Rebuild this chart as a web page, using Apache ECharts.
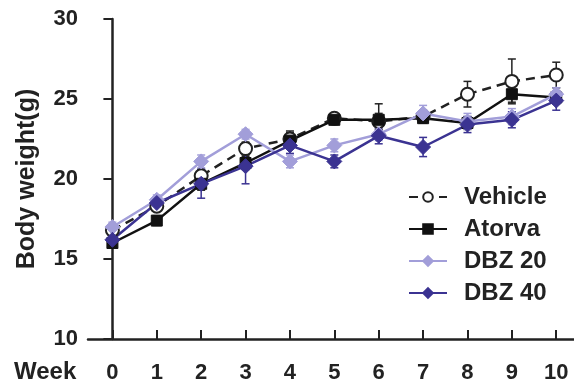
<!DOCTYPE html>
<html>
<head>
<meta charset="utf-8">
<script src="https://cdn.jsdelivr.net/npm/echarts@6/dist/echarts.min.js"></script>
<style>
  html, body {margin: 0; padding: 0; background: #fff;}
  #chart {width: 574px; height: 392px;}
</style>
</head>
<body>
<div id="chart"></div>
<script>
const weeks = [0, 1, 2, 3, 4, 5, 6, 7, 8, 9, 10];
const vehicle = [16.8, 18.3, 20.2, 21.9, 22.5, 23.8, 23.6, 23.9, 25.3, 26.1, 26.5];
const vehicleErr = [0.3, 0.3, 0.4, 0.4, 0.5, 0.3, 0.5, 0.4, 0.8, 1.4, 0.8];
const atorva = [16.0, 17.4, 19.7, 21.0, 22.4, 23.7, 23.7, 23.8, 23.5, 25.3, 25.1];
const atorvaErr = [0.3, 0.3, 0.4, 0.4, 0.5, 0.3, 1.0, 0.3, 0.4, 0.5, 0.4];
const dbz20 = [17.0, 18.7, 21.1, 22.8, 21.1, 22.1, 22.8, 24.1, 23.6, 23.9, 25.3];
const dbz20Err = [0.3, 0.3, 0.4, 0.3, 0.4, 0.4, 0.4, 0.5, 0.5, 0.5, 0.4];
const dbz40 = [16.2, 18.5, 19.7, 20.8, 22.1, 21.1, 22.7, 22.0, 23.4, 23.7, 24.9];
const dbz40Err = [0.4, 0.3, 0.9, 1.1, 0.5, 0.4, 0.5, 0.6, 0.5, 0.5, 0.6];
const yTicks = [10, 15, 20, 25, 30];

const FONT = 'Liberation Sans, Arial, sans-serif';
const INK = '#222';
const LIGHT = '#a29ed9';
const DARK = '#3b3392';

const chart = echarts.init(document.getElementById('chart'));

const pairs = (vals) => weeks.map((w, i) => [w, vals[i]]);
const bars = (vals, err) => weeks.map((w, i) => [w, vals[i] - err[i], vals[i] + err[i]]);

function errorSeries(name, vals, err, color) {
  return {
    type: 'custom',
    name: name,
    z: 1,
    data: bars(vals, err),
    renderItem(params, api) {
      const x = api.value(0);
      const lo = api.coord([x, api.value(1)]);
      const hi = api.coord([x, api.value(2)]);
      const cap = 4;
      const style = {stroke: color, lineWidth: 1.5};
      return {
        type: 'group',
        children: [
          {type: 'line', shape: {x1: lo[0], y1: lo[1], x2: hi[0], y2: hi[1]}, style},
          {type: 'line', shape: {x1: lo[0] - cap, y1: lo[1], x2: lo[0] + cap, y2: lo[1]}, style},
          {type: 'line', shape: {x1: hi[0] - cap, y1: hi[1], x2: hi[0] + cap, y2: hi[1]}, style}
        ]
      };
    }
  };
}

function lineSeries(name, vals, opts) {
  return Object.assign({
    type: 'line',
    name: name,
    z: 3,
    data: pairs(vals)
  }, opts);
}

chart.setOption({
  animation: false,
  textStyle: {fontFamily: FONT},
  grid: {left: 88, right: 0, top: 19, bottom: 53},
  legend: {
    orient: 'vertical',
    left: 403,
    top: 180,
    itemWidth: 38,
    itemHeight: 12,
    itemGap: 8,
    data: ['Vehicle', 'Atorva', 'DBZ 20', 'DBZ 40'],
    textStyle: {fontFamily: FONT, fontWeight: 'bold', fontSize: 24, color: INK, padding: [0, 0, 0, 12]}
  },
  graphic: [{
    type: 'text',
    left: 14,
    top: 360,
    style: {text: 'Week', fontFamily: FONT, fontWeight: 'bold', fontSize: 24, fill: INK}
  }],
  xAxis: {
    type: 'value',
    min: -0.55,
    max: 10.4,
    splitLine: {show: false},
    axisLine: {lineStyle: {color: INK, width: 2.5}},
    axisTick: {show: true, inside: true, length: 9, customValues: weeks, lineStyle: {color: INK, width: 2}},
    axisLabel: {
      customValues: weeks,
      margin: 23,
      fontFamily: FONT, fontWeight: 'bold', fontSize: 22, color: INK
    }
  },
  yAxis: {
    type: 'value',
    min: 10,
    max: 30,
    interval: 5,
    name: 'Body weight(g)',
    nameLocation: 'middle',
    nameGap: 48,
    nameTextStyle: {fontFamily: FONT, fontWeight: 'bold', fontSize: 25, color: INK},
    splitLine: {show: false},
    axisLine: {show: true, lineStyle: {color: INK, width: 2.5}},
    axisTick: {show: true, length: 9, lineStyle: {color: INK, width: 2}},
    axisLabel: {
      margin: 10,
      fontFamily: FONT, fontWeight: 'bold', fontSize: 22, color: INK,
      formatter: (v) => yTicks.includes(v) ? String(v) : ''
    }
  },
  series: [
    errorSeries('Vehicle err', vehicle, vehicleErr, INK),
    errorSeries('Atorva err', atorva, atorvaErr, INK),
    errorSeries('DBZ 20 err', dbz20, dbz20Err, LIGHT),
    errorSeries('DBZ 40 err', dbz40, dbz40Err, DARK),
    lineSeries('Vehicle', vehicle, {
      symbol: 'circle', symbolSize: 13,
      itemStyle: {color: '#fff', borderColor: INK, borderWidth: 2},
      lineStyle: {color: INK, width: 2.5, type: [9, 6]}
    }),
    lineSeries('Atorva', atorva, {
      symbol: 'rect', symbolSize: 11,
      itemStyle: {color: '#111', borderColor: '#111', borderWidth: 1},
      lineStyle: {color: '#111', width: 2.5}
    }),
    lineSeries('DBZ 20', dbz20, {
      symbol: 'diamond', symbolSize: 15,
      itemStyle: {color: LIGHT, borderColor: LIGHT, borderWidth: 1},
      lineStyle: {color: LIGHT, width: 2.5}
    }),
    lineSeries('DBZ 40', dbz40, {
      symbol: 'diamond', symbolSize: 15,
      itemStyle: {color: DARK, borderColor: DARK, borderWidth: 1},
      lineStyle: {color: DARK, width: 2.5}
    })
  ]
});
</script>
</body>
</html>
